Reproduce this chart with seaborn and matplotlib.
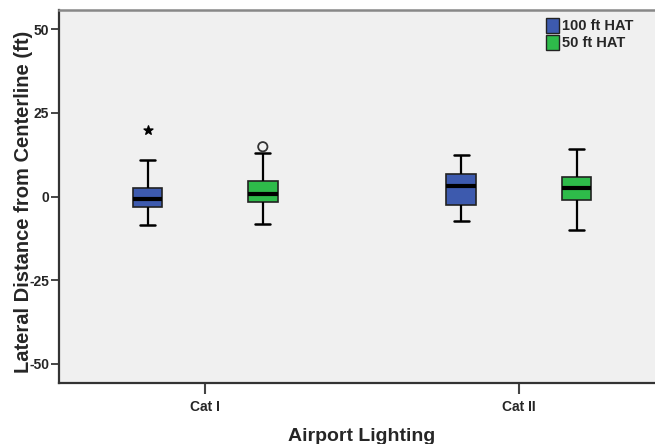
import numpy as np
import pandas as pd
import matplotlib
matplotlib.use("Agg")
import matplotlib.pyplot as plt
import seaborn as sns
from matplotlib.patches import Patch

# five-number summaries: lower whisker, Q1, median, Q3, upper whisker
categories = ["Cat I", "Cat II"]
groups = ["100 ft HAT", "50 ft HAT"]
cat1_100 = [-8.5, -3.1, -0.6, 2.5, 10.9]
cat1_50 = [-8.2, -1.6, 0.9, 4.6, 13.0]
cat2_100 = [-7.2, -2.5, 3.2, 6.8, 12.4]
cat2_50 = [-10.0, -1.0, 2.7, 5.8, 14.1]

# outliers (Cat I only): star = extreme, circle = outlier
outlier_cat = ["Cat I", "Cat I"]
outlier_group = ["100 ft HAT", "50 ft HAT"]
outlier_value = [19.9, 14.9]
outlier_marker = ["*", "o"]

colors = ["#3D5AAE", "#2EBB4A"]

rows = []
for cat, grp, vals in [("Cat I", groups[0], cat1_100), ("Cat I", groups[1], cat1_50),
                       ("Cat II", groups[0], cat2_100), ("Cat II", groups[1], cat2_50)]:
    for v in vals:
        rows.append({"Airport Lighting": cat, "HAT": grp, "Lateral": v})
df = pd.DataFrame(rows)

sns.set_style("ticks")
plt.rcParams["font.family"] = ["Liberation Sans", "DejaVu Sans"]
plt.rcParams["font.weight"] = "bold"
plt.rcParams["axes.unicode_minus"] = False

fig = plt.figure(figsize=(6.55, 4.44), dpi=100)
ax = fig.add_axes([0.090, 0.1374, 0.912, 0.8396])
ax.set_facecolor("#F0F0F0")

dodge_width = 0.735
sns.boxplot(data=df, x="Airport Lighting", y="Lateral", hue="HAT",
            order=categories, hue_order=groups, palette=colors,
            width=dodge_width, gap=0.743, whis=np.inf, ax=ax,
            linecolor="black", linewidth=1.2, saturation=1,
            medianprops={"color": "black", "linewidth": 3},
            whiskerprops={"color": "black", "linewidth": 1.6},
            capprops={"color": "black", "linewidth": 1.8},
            boxprops={"edgecolor": "#222222", "linewidth": 1.2},
            legend=False)

# outliers at the dodged box positions
for cat, grp, val, mk in zip(outlier_cat, outlier_group, outlier_value, outlier_marker):
    xpos = categories.index(cat) + (groups.index(grp) - 0.5) * dodge_width / 2
    if mk == "*":
        ax.scatter([xpos], [val], marker="*", s=45, color="black", zorder=5)
    else:
        ax.scatter([xpos], [val], marker="o", s=45, facecolor="none",
                   edgecolor="#333333", linewidth=1.3, zorder=5)

ax.set_xlim(-0.466, 1.438)
ax.set_ylim(-55.7, 55.7)
ax.set_yticks([-50, -25, 0, 25, 50])
ax.tick_params(axis="y", labelsize=10, length=6, width=1.2, pad=1)
ax.tick_params(axis="x", labelsize=10, length=8, width=1.5, pad=4, color="#444444")

for s in ["left", "bottom"]:
    ax.spines[s].set_linewidth(1.6)
    ax.spines[s].set_color("#333333")
ax.spines["top"].set_visible(True)
ax.spines["top"].set_color("#888888")
ax.spines["top"].set_linewidth(1.8)
ax.spines["right"].set_visible(False)

ax.set_ylabel("Lateral Distance from Centerline (ft)", fontsize=14.5, fontweight="bold")
ax.set_xlabel("Airport Lighting", fontsize=14, fontweight="bold")
ax.yaxis.set_label_coords(-0.044, 0.485)
ax.xaxis.set_label_coords(0.506, -0.121)

handles = [Patch(facecolor=c, edgecolor="#222222", linewidth=1.0, label=g) for c, g in zip(colors, groups)]
leg = ax.legend(handles=handles, loc="upper right", bbox_to_anchor=(0.978, 1.007),
                frameon=False, fontsize=10.5, handlelength=0.9, handleheight=1.2,
                handletextpad=0.2, labelspacing=0.1, borderaxespad=0.3)
for t in leg.get_texts():
    t.set_fontweight("bold")

fig.savefig("out.png", dpi=100)
